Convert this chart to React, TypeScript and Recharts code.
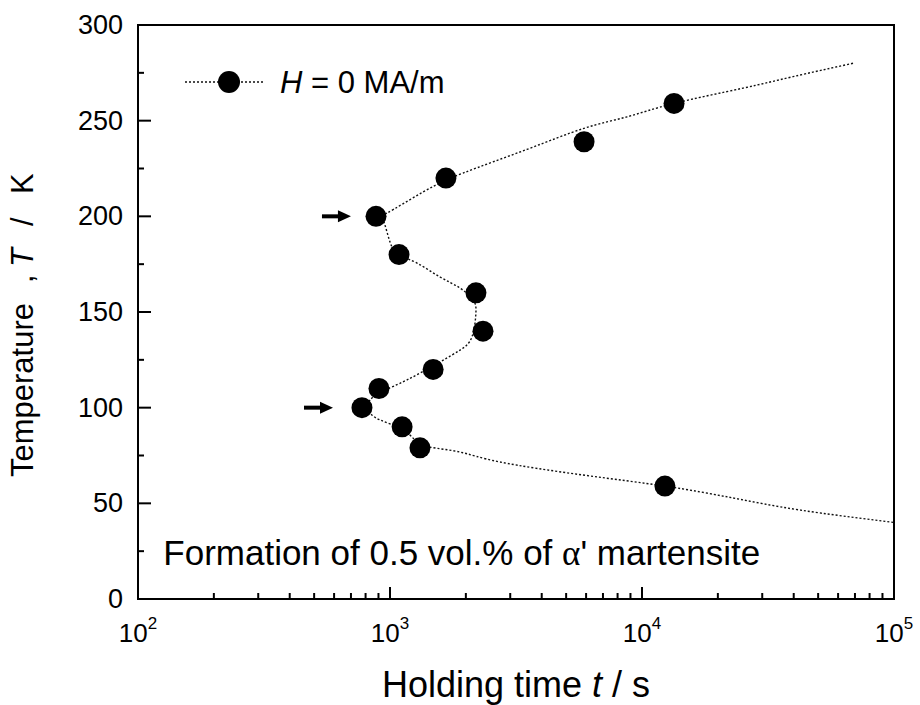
import React from "react";
import {
  ComposedChart, XAxis, YAxis, Line, Scatter, ReferenceArea, ReferenceDot, Legend,
} from "recharts";

const FONT = '"Liberation Sans", Arial, Helvetica, sans-serif';

// measured points: holding time (s) and temperature (K)
const pointTimes = [12330, 1315, 1117, 774, 904, 1483, 2339, 2193, 1086, 880, 1667, 5890, 13400];
const pointTemps = [59, 79, 90, 100, 110, 120, 140, 160, 180, 200, 220, 239, 259];

// dotted guide curve, traced from the upper right end round to the lower right end
const curveTimes = [
  68760, 39720, 25170, 13400, 8720, 5887, 3497, 1949, 1352, 973, 938, 1000, 1086, 1279,
  1578, 1897, 2133, 2193, 2113, 1897, 1578, 1168, 938, 833, 818, 912, 1117, 1256, 1441,
  1897, 2732, 5834, 12330, 22960, 42380, 100000,
];
const curveTemps = [
  280, 273, 267, 259, 252, 246, 235, 222.6, 212.7, 201.7, 198.4, 186.6, 179.8, 175.6,
  168.3, 162.5, 156.3, 150, 136.9, 130.1, 123.9, 114.5, 108.7, 104, 98.8, 93.6, 88.9, 83.1, 79.4,
  76.8, 71.6, 64.8, 59, 52.8, 46.5, 40,
];

// arrows pointing at the two noses
const arrowTimes = [700, 594];
const arrowTemps = [200, 100];

const decades = [100, 1000, 10000];
const xTicks = [...decades.flatMap((d) => [1, 2, 3, 4, 5, 6, 7, 8, 9].map((m) => d * m)), 100000];
const yTicks = [0, 25, 50, 75, 100, 125, 150, 175, 200, 225, 250, 275, 300];

const points = pointTimes.map((t, i) => ({ t, T: pointTemps[i] }));
const curve = curveTimes.map((t, i) => ({ t, T: curveTemps[i] }));

const XTick = ({ x, y, payload }: any) => {
  const v = payload.value;
  const e = Math.round(Math.log10(v));
  const major = Math.abs(v - 10 ** e) < 1e-6;
  return (
    <g>
      <line x1={x} x2={x} y1={y} y2={y - (major ? 12 : 6)} stroke="#000" strokeWidth={2} />
      {major && (
        <text x={x} y={y + 43} textAnchor="middle" fontSize={26} fontFamily={FONT} fill="#000">
          10<tspan dy={-13} fontSize={17}>{e}</tspan>
        </text>
      )}
    </g>
  );
};

const YTick = ({ x, y, payload }: any) => {
  const v = payload.value;
  const major = v % 50 === 0;
  return (
    <g>
      <line x1={x} x2={x + (major ? 13 : 6)} y1={y} y2={y} stroke="#000" strokeWidth={2} />
      {major && (
        <text x={x - 15} y={y + 9} textAnchor="end" fontSize={27} fontFamily={FONT} fill="#000">
          {v}
        </text>
      )}
    </g>
  );
};

const XTitle = ({ viewBox }: any) => (
  <text x={viewBox.x + viewBox.width / 2} y={viewBox.y + 98} textAnchor="middle"
    fontSize={36} fontFamily={FONT} fill="#000">
    Holding time <tspan fontStyle="italic">t</tspan> / s
  </text>
);

// rotated title; pieces placed along the reading direction (distance up from the plot centre)
const YTitle = ({ viewBox }: any) => {
  const bx = viewBox.x + 33;
  const mid = viewBox.y + viewBox.height / 2;
  const at = (d: number) => -(mid - d);
  return (
    <text transform={`translate(${bx} 0) rotate(-90)`} y={0} fontSize={31} fontFamily={FONT} fill="#000">
      <tspan x={at(-165)}>Temperature</tspan>
      <tspan x={at(29)}>,</tspan>
      <tspan x={at(45)} fontStyle="italic">T</tspan>
      <tspan x={at(86)}>/</tspan>
      <tspan x={at(118)}>K</tspan>
    </text>
  );
};

const Dot = ({ cx, cy }: any) => <circle cx={cx} cy={cy} r={10.5} fill="#000" />;

const Arrow = ({ cx, cy }: any) => (
  <g>
    <line x1={cx - 29} x2={cx - 9} y1={cy} y2={cy} stroke="#000" strokeWidth={4} />
    <path d={`M${cx},${cy} L${cx - 13},${cy - 6} L${cx - 13},${cy + 6} Z`} fill="#000" />
  </g>
);

const Note = ({ cx, cy }: any) => (
  <text x={cx} y={cy} fontSize={35} fontFamily={FONT} fill="#000">
    Formation of 0.5 vol.% of <tspan fontFamily='"Liberation Serif", serif'>α</tspan>' martensite
  </text>
);

const LegendBox = () => (
  <svg width={300} height={40} style={{ display: "block" }}>
    <line x1={0} x2={80} y1={18} y2={18} stroke="#111" strokeWidth={1.4} strokeDasharray="2 2" />
    <circle cx={44} cy={18} r={11} fill="#000" />
    <text x={95} y={29} fontSize={31} fontFamily={FONT} fill="#000">
      <tspan fontStyle="italic">H</tspan> = 0 MA/m
    </text>
  </svg>
);

export default function App() {
  return (
    <div style={{ position: "absolute", left: 0, top: 0, width: 920, height: 705, background: "#fff", fontFamily: FONT }}>
      <ComposedChart width={920} height={705} margin={{ top: 25, right: 26, bottom: 0, left: 0 }}>
        <XAxis
          type="number" dataKey="t" scale="log" domain={[100, 100000]} allowDataOverflow
          ticks={xTicks} interval={0} tickSize={0} tickMargin={0}
          axisLine={false} tickLine={false} tick={XTick} height={106} label={XTitle}
        />
        <YAxis
          type="number" domain={[0, 300]} ticks={yTicks} interval={0} tickSize={0} tickMargin={0}
          axisLine={false} tickLine={false} tick={YTick} width={138} label={YTitle}
        />
        <ReferenceArea x1={100} x2={100000} y1={0} y2={300} fill="none" stroke="#000"
          strokeWidth={2} ifOverflow="visible" />
        <Legend
          layout="horizontal" verticalAlign="middle" align="center"
          content={LegendBox} wrapperStyle={{ left: 185, top: 64, width: 300, height: 40 }}
        />
        <Line
          data={curve} dataKey="T" type="natural" stroke="#111" strokeWidth={1.4}
          strokeDasharray="2 2" dot={false} activeDot={false} legendType="none" isAnimationActive={false}
        />
        <Scatter name="H = 0 MA/m" data={points} dataKey="T" fill="#000" shape={Dot} isAnimationActive={false} />
        {arrowTimes.map((t, i) => (
          <ReferenceDot key={i} x={t} y={arrowTemps[i]} r={0} shape={Arrow} ifOverflow="visible" />
        ))}
        <ReferenceDot x={126} y={18} r={0} shape={Note} ifOverflow="visible" />
      </ComposedChart>
    </div>
  );
}
